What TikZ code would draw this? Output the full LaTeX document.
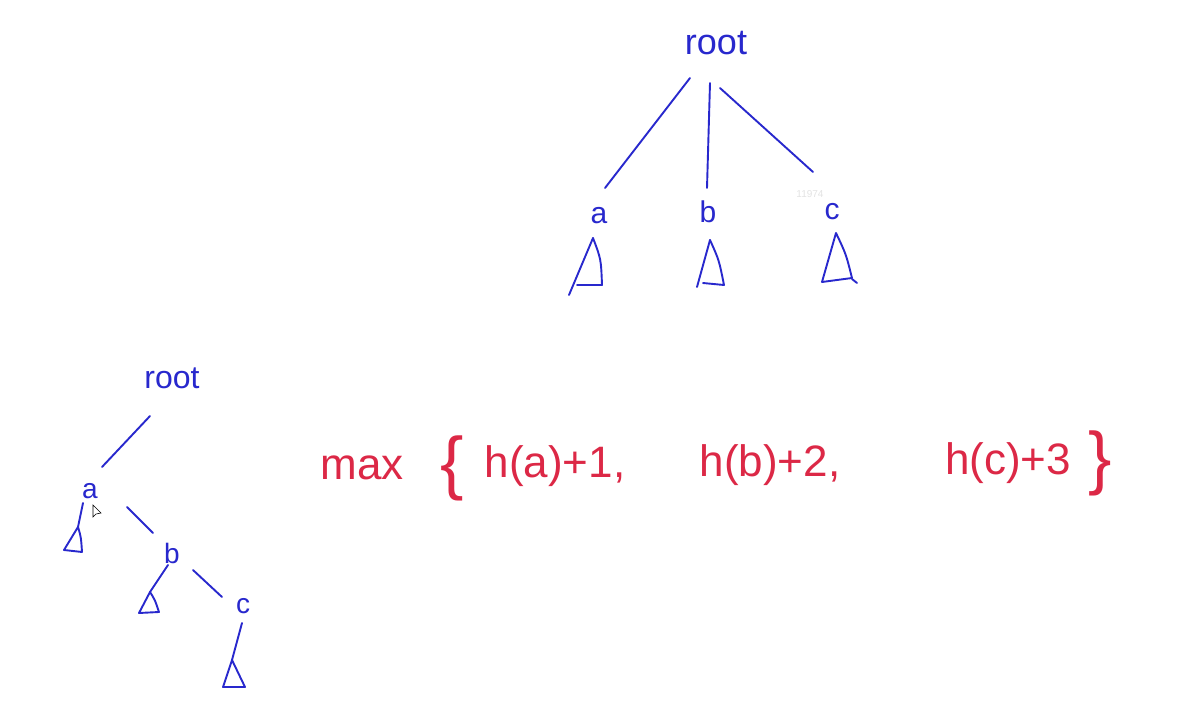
\documentclass[tikz,border=0pt]{standalone}
\usepackage{fontspec}
\setmainfont{Liberation Sans}
\definecolor{pen}{RGB}{40,40,205}
\definecolor{ink}{RGB}{220,40,70}
\begin{document}
\begin{tikzpicture}[x=1pt,y=-1pt,
  stroke/.style={draw=pen,line width=1.9pt,line cap=round,line join=round},
  lbl/.style={text=pen,inner sep=0pt,font=\fontsize{30}{30}\selectfont},
  rootlbl/.style={text=pen,inner sep=0pt,font=\fontsize{36}{36}\selectfont},
  formula/.style={text=ink,inner sep=0pt,font=\fontsize{44}{44}\selectfont},
  brace/.style={text=ink,inner sep=0pt,font=\fontsize{70}{70}\selectfont}]
\useasboundingbox (0,0) rectangle (1184,705);
\fill[white] (0,0) rectangle (1184,705);
% watermark
\node[text=gray!22,inner sep=0pt,font=\fontsize{10}{10}\selectfont] (wm) at (810,194) {11974};
% ---------- top tree ----------
\node[rootlbl] (root) at (716,43) {root};
\node[lbl] (a) at (599,216) {a};
\node[lbl] (b) at (708,212) {b};
\node[lbl] (c) at (832,212) {c};
\draw[stroke] ([shift={(-26,35)}]root.center) -- ([shift={(6,-28)}]a.center);
\draw[stroke] ([shift={(-6,40)}]root.center) -- ([shift={(-1,-24)}]b.center);
\draw[stroke] ([shift={(4,45)}]root.center) -- ([shift={(-19,-40)}]c.center);
% subtrees
\coordinate (ta) at (593,238);
\draw[stroke] (ta) -- (569,295);
\draw[stroke] (577,285) -- (602,285) .. controls (601,259) .. (ta);
\coordinate (tb) at (710,240);
\draw[stroke] (tb) -- (697,287);
\draw[stroke] (703,283) -- (724,285) .. controls (719,260) .. (tb);
\coordinate (tc) at (836,233);
\draw[stroke] (tc) -- (822,282) -- (852,278) .. controls (846,254) .. (tc);
\draw[stroke] (852,279) -- (857,283);
% ---------- bottom tree ----------
\node[lbl,font=\fontsize{32}{32}\selectfont] (root2) at (172,378) {root};
\node[lbl,font=\fontsize{28}{28}\selectfont] (a2) at (90,491) {a};
\node[lbl,font=\fontsize{28}{28}\selectfont] (b2) at (172,553) {b};
\node[lbl,font=\fontsize{28}{28}\selectfont] (c2) at (243,606) {c};
\draw[stroke] ([shift={(-22,38)}]root2.center) -- ([shift={(12,-24)}]a2.center);
\draw[stroke] ([shift={(37,16)}]a2.center) -- ([shift={(-19,-20)}]b2.center);
\draw[stroke] ([shift={(21,17)}]b2.center) -- ([shift={(-21,-9)}]c2.center);
% subtree of a
\coordinate (ta2) at (78,527);
\draw[stroke] ([shift={(-7,12)}]a2.center) -- (ta2);
\draw[stroke] (ta2) -- (64,550) -- (82,552) .. controls (81,537) .. (ta2);
% subtree of b
\coordinate (tb2) at (150,592);
\draw[stroke] ([shift={(-4,12)}]b2.center) -- (tb2);
\draw[stroke] (tb2) -- (139,613) -- (159,612) .. controls (155,600) .. (tb2);
% subtree of c
\coordinate (tc2) at (232,660);
\draw[stroke] ([shift={(-1,17)}]c2.center) -- (tc2);
\draw[stroke] (tc2) -- (223,687) -- (245,687) -- cycle;
% cursor
\draw[black,line width=0.6pt,fill=white] (93,505) -- (93,517) -- (96,514) -- (101,513) -- cycle;
% ---------- formula ----------
\node[formula] (max) at (362,468) {max};
\node[brace] (lb) at (452,468) {\{};
\node[formula] (t1) at (555,466) {h(a)+1,};
\node[formula] (t2) at (770,465) {h(b)+2,};
\node[formula] (t3) at (1008,463) {h(c)+3};
\node[brace] (rb) at (1100,463) {\}};
\end{tikzpicture}
\end{document}
